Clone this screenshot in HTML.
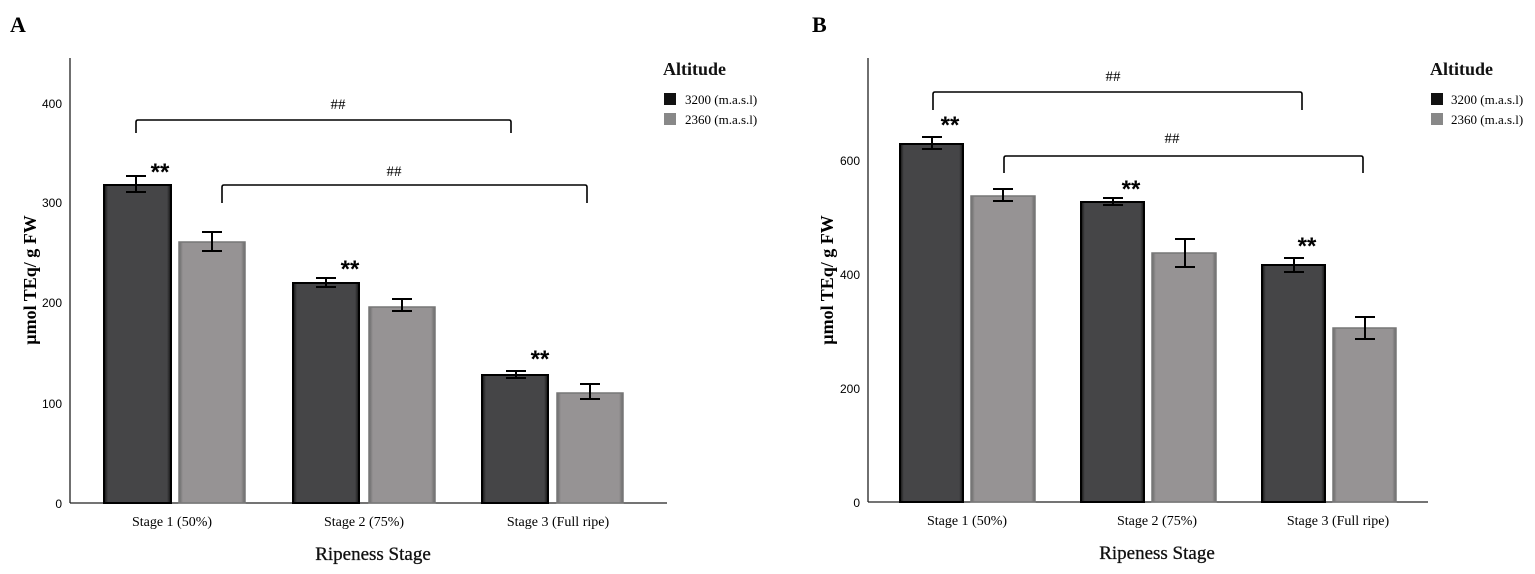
<!DOCTYPE html>
<html><head><meta charset="utf-8"><style>
html,body{margin:0;padding:0;background:#fff;}
svg{display:block;font-family:"Liberation Serif",serif;}
</style></head><body>
<svg width="1535" height="574" viewBox="0 0 1535 574" xmlns="http://www.w3.org/2000/svg">
<defs>
<linearGradient id="dk" x1="0" x2="1"><stop offset="0" stop-color="#111"/><stop offset="0.06" stop-color="#454547"/><stop offset="0.94" stop-color="#454547"/><stop offset="1" stop-color="#111"/></linearGradient>
<linearGradient id="lt" x1="0" x2="1"><stop offset="0" stop-color="#6a6a6a"/><stop offset="0.06" stop-color="#969394"/><stop offset="0.94" stop-color="#969394"/><stop offset="1" stop-color="#6a6a6a"/></linearGradient>
</defs>
<g fill="#000">
<text x="10" y="32" font-size="22" font-weight="bold">A</text>
<text x="812" y="32" font-size="22" font-weight="bold">B</text>
</g>

<!-- Panel A -->
<g stroke="#222" stroke-width="1.3" fill="none">
<line x1="70" y1="58" x2="70" y2="503"/>
<line x1="70" y1="503" x2="667" y2="503"/>
</g>
<g font-size="12" text-anchor="end" fill="#000" font-family="Liberation Sans Narrow, Liberation Sans, sans-serif">
<text x="62" y="508">0</text><text x="62" y="408">100</text><text x="62" y="307">200</text><text x="62" y="207">300</text><text x="62" y="108">400</text>
</g>
<rect x="104" y="185" width="67" height="318" fill="url(#dk)" stroke="#000" stroke-width="2"/>
<rect x="179" y="242" width="66" height="261" fill="url(#lt)" stroke="#777" stroke-width="1.5"/>
<rect x="293" y="283" width="66" height="220" fill="url(#dk)" stroke="#000" stroke-width="2"/>
<rect x="369" y="307" width="66" height="196" fill="url(#lt)" stroke="#777" stroke-width="1.5"/>
<rect x="482" y="375" width="66" height="128" fill="url(#dk)" stroke="#000" stroke-width="2"/>
<rect x="557" y="393" width="66" height="110" fill="url(#lt)" stroke="#777" stroke-width="1.5"/>
<g stroke="#000" stroke-width="2" fill="none">
<path d="M126,176H146M136,176V192M126,192H146"/>
<path d="M202,232H222M212,232V251M202,251H222"/>
<path d="M316,278H336M326,278V287M316,287H336"/>
<path d="M392,299H412M402,299V311M392,311H412"/>
<path d="M506,371H526M516,371V378M506,378H526"/>
<path d="M580,384H600M590,384V399M580,399H600"/>
<path d="M136,133V122Q136,120 138,120H509Q511,120 511,122V133" stroke-width="1.6"/>
<path d="M222,203V187Q222,185 224,185H585Q587,185 587,187V203" stroke-width="1.6"/>
</g>
<g font-size="24" font-weight="bold" text-anchor="middle" fill="#000" font-family="Liberation Sans, sans-serif">
<text x="160" y="180">**</text><text x="350" y="277">**</text><text x="540" y="367">**</text>
</g>
<g font-size="15" text-anchor="middle" fill="#000">
<text x="338" y="109">##</text><text x="394" y="176">##</text>
</g>
<g font-size="14" text-anchor="middle" fill="#000">
<text x="172" y="526">Stage 1 (50%)</text><text x="364" y="526">Stage 2 (75%)</text><text x="558" y="526">Stage 3 (Full ripe)</text>
</g>
<text x="373" y="560" font-size="19" text-anchor="middle" fill="#111" stroke="#111" stroke-width="0.3">Ripeness Stage</text>
<text transform="translate(36,280) rotate(-90)" font-size="18" font-weight="bold" text-anchor="middle" fill="#000">µmol TEq/ g FW</text>
<text x="663" y="75" font-size="18" font-weight="bold" fill="#111">Altitude</text>
<rect x="664" y="93" width="12" height="12" fill="#111"/>
<rect x="664" y="113" width="12" height="12" fill="#888"/>
<text x="685" y="104" font-size="13" fill="#000">3200 (m.a.s.l)</text>
<text x="685" y="124" font-size="13" fill="#000">2360 (m.a.s.l)</text>

<!-- Panel B -->
<g stroke="#222" stroke-width="1.3" fill="none">
<line x1="868" y1="58" x2="868" y2="502"/>
<line x1="868" y1="502" x2="1428" y2="502"/>
</g>
<g font-size="12" text-anchor="end" fill="#000" font-family="Liberation Sans Narrow, Liberation Sans, sans-serif">
<text x="860" y="507">0</text><text x="860" y="393">200</text><text x="860" y="279">400</text><text x="860" y="165">600</text>
</g>
<rect x="900" y="144" width="63" height="358" fill="url(#dk)" stroke="#000" stroke-width="2"/>
<rect x="971" y="196" width="64" height="306" fill="url(#lt)" stroke="#777" stroke-width="1.5"/>
<rect x="1081" y="202" width="63" height="300" fill="url(#dk)" stroke="#000" stroke-width="2"/>
<rect x="1152" y="253" width="64" height="249" fill="url(#lt)" stroke="#777" stroke-width="1.5"/>
<rect x="1262" y="265" width="63" height="237" fill="url(#dk)" stroke="#000" stroke-width="2"/>
<rect x="1333" y="328" width="63" height="174" fill="url(#lt)" stroke="#777" stroke-width="1.5"/>
<g stroke="#000" stroke-width="2" fill="none">
<path d="M922,137H942M932,137V149M922,149H942"/>
<path d="M993,189H1013M1003,189V201M993,201H1013"/>
<path d="M1103,198H1123M1113,198V205M1103,205H1123"/>
<path d="M1175,239H1195M1185,239V267M1175,267H1195"/>
<path d="M1284,258H1304M1294,258V272M1284,272H1304"/>
<path d="M1355,317H1375M1365,317V339M1355,339H1375"/>
<path d="M933,110V94Q933,92 935,92H1300Q1302,92 1302,94V110" stroke-width="1.6"/>
<path d="M1004,173V158Q1004,156 1006,156H1361Q1363,156 1363,158V173" stroke-width="1.6"/>
</g>
<g font-size="24" font-weight="bold" text-anchor="middle" fill="#000" font-family="Liberation Sans, sans-serif">
<text x="950" y="133">**</text><text x="1131" y="197">**</text><text x="1307" y="254">**</text>
</g>
<g font-size="15" text-anchor="middle" fill="#000">
<text x="1113" y="81">##</text><text x="1172" y="143">##</text>
</g>
<g font-size="14" text-anchor="middle" fill="#000">
<text x="967" y="525">Stage 1 (50%)</text><text x="1157" y="525">Stage 2 (75%)</text><text x="1338" y="525">Stage 3 (Full ripe)</text>
</g>
<text x="1157" y="559" font-size="19" text-anchor="middle" fill="#111" stroke="#111" stroke-width="0.3">Ripeness Stage</text>
<text transform="translate(833,280) rotate(-90)" font-size="18" font-weight="bold" text-anchor="middle" fill="#000">µmol TEq/ g FW</text>
<text x="1430" y="75" font-size="18" font-weight="bold" fill="#111">Altitude</text>
<rect x="1431" y="93" width="12" height="12" fill="#111"/>
<rect x="1431" y="113" width="12" height="12" fill="#888"/>
<text x="1451" y="104" font-size="13" fill="#000">3200 (m.a.s.l)</text>
<text x="1451" y="124" font-size="13" fill="#000">2360 (m.a.s.l)</text>
</svg>
</body></html>
